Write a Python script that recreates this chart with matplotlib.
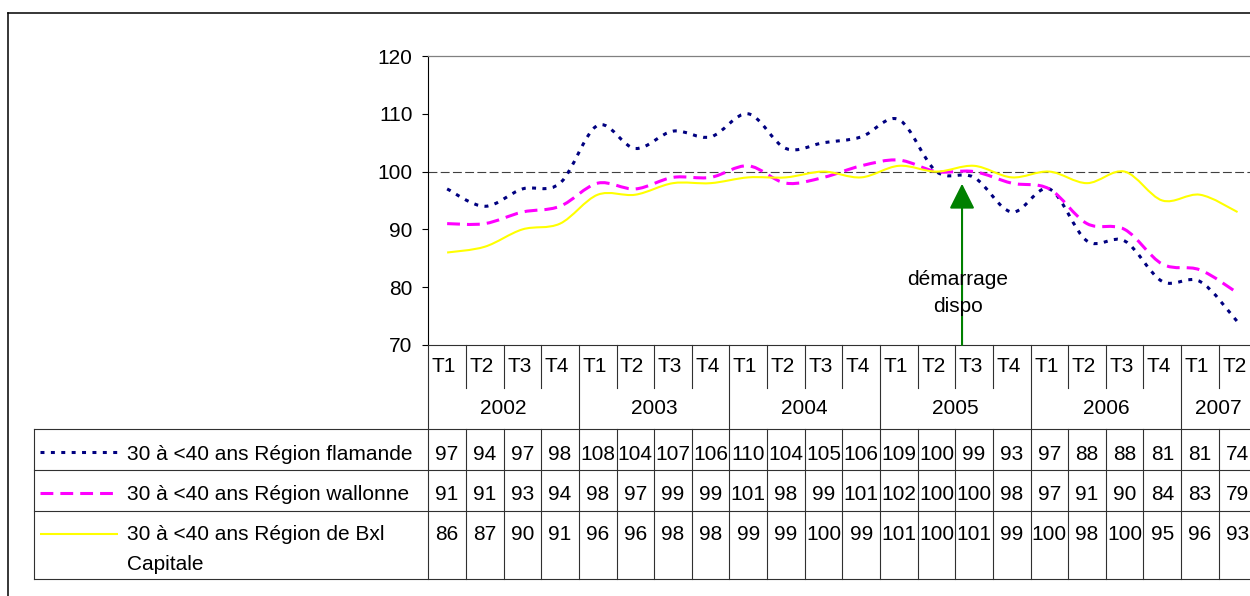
import numpy as np
import matplotlib
matplotlib.use('Agg')
import matplotlib.pyplot as plt
from matplotlib.path import Path
from matplotlib.patches import PathPatch
from matplotlib.lines import Line2D

plt.rcParams['font.family'] = ['Liberation Sans', 'DejaVu Sans']

# ---------------- data ----------------
years = ['2002', '2003', '2004', '2005', '2006', '2007']
quarters_per_year = [4, 4, 4, 4, 4, 2]
quarter_labels = ['T1', 'T2', 'T3', 'T4'] * 5 + ['T1', 'T2']

flamande = [97, 94, 97, 98, 108, 104, 107, 106, 110, 104, 105, 106,
            109, 100, 99, 93, 97, 88, 88, 81, 81, 74]
wallonne = [91, 91, 93, 94, 98, 97, 99, 99, 101, 98, 99, 101,
            102, 100, 100, 98, 97, 91, 90, 84, 83, 79]
bxl = [86, 87, 90, 91, 96, 96, 98, 98, 99, 99, 100, 99,
       101, 100, 101, 99, 100, 98, 100, 95, 96, 93]

series_names = ['30 à <40 ans Région flamande',
                '30 à <40 ans Région wallonne',
                '30 à <40 ans Région de Bxl\nCapitale']
series_values = [flamande, wallonne, bxl]

reference_level = 100
annotation_text = ['démarrage', 'dispo']
annotation_index = 14   # T3 2005

y_min, y_max, y_step = 70, 120, 10

# ---------------- styles ----------------
styles = [
    dict(color='#000080', lw=2.2, ls=(0, (1.3, 2.1))),
    dict(color='#FF00FF', lw=2.2, ls=(0, (4.2, 2.3))),
    dict(color='#FFFF00', lw=1.5, ls='-'),
]
FS = 15.0
W, H = 1250, 596
n = len(quarter_labels)
plot_left = 428.3
col_w = 37.64
plot_right = plot_left + n * col_w
plot_top, plot_bottom = 56, 345

fig = plt.figure(figsize=(W / 100, H / 100), dpi=100)
ax = fig.add_axes([plot_left / W, (H - plot_bottom) / H,
                   (plot_right - plot_left) / W, (plot_bottom - plot_top) / H])
ax.set_xlim(0, n)
ax.set_ylim(y_min, y_max)
ax.set_yticks(np.arange(y_min, y_max + 1, y_step))
ax.set_xticks([])
ax.tick_params(axis='y', length=4.3, width=0.8, pad=7, labelsize=FS, colors='black')
ax.spines['right'].set_visible(False)
ax.spines['top'].set_color('#808080')
ax.spines['top'].set_linewidth(0.9)
ax.spines['left'].set_color('black')
ax.spines['left'].set_linewidth(0.8)
ax.spines['bottom'].set_color('#303030')
ax.spines['bottom'].set_linewidth(0.8)

ax.axhline(reference_level, color='#404040', lw=0.8, ls=(0, (8, 3)), zorder=1)


def smooth_path(xs, ys):
    pts = np.column_stack([xs, ys]).astype(float)
    m = len(pts)
    verts = [pts[0]]
    codes = [Path.MOVETO]
    for i in range(m - 1):
        p0 = pts[i - 1] if i > 0 else pts[i]
        p1 = pts[i]
        p2 = pts[i + 1]
        p3 = pts[i + 2] if i + 2 < m else pts[i + 1]
        c1 = p1 + (p2 - p0) / 6.0
        c2 = p2 - (p3 - p1) / 6.0
        verts += [c1, c2, p2]
        codes += [Path.CURVE4] * 3
    return Path(verts, codes)


xs = np.arange(n) + 0.5
for vals, st in zip(series_values, styles):
    patch = PathPatch(smooth_path(xs, vals), fill=False, edgecolor=st['color'],
                      lw=st['lw'], linestyle=st['ls'], capstyle='butt', zorder=3)
    ax.add_patch(patch)

# arrow + annotation
arrow_x = annotation_index + 0.18
ax.annotate('', xy=(arrow_x, 97.9), xytext=(arrow_x, y_min),
            arrowprops=dict(arrowstyle='-|>,head_length=1.55,head_width=0.78',
                            color='#008000', lw=1.5, mutation_scale=10,
                            shrinkA=0, shrinkB=0), zorder=4)
ax.text(annotation_index + 0.07, 80.4, annotation_text[0], ha='center', va='baseline',
        fontsize=FS, zorder=5)
ax.text(annotation_index + 0.07, 75.7, annotation_text[1], ha='center', va='baseline',
        fontsize=FS, zorder=5)

# ---------------- overlay (pixel space) ----------------
ov = fig.add_axes([0, 0, 1, 1])
ov.set_xlim(0, W)
ov.set_ylim(H, 0)
ov.axis('off')

lc = '#303030'
tlw = 0.8
# outer frame
ov.plot([8, W + 5], [13, 13], color='black', lw=1.1)
ov.plot([8, 8], [13, H + 5], color='black', lw=1.1)

y_qbot = 388
y_hdr = 429
row_lines = [470, 511]
y_bot = 579
legend_left = 34
right_end = plot_right + 2


def col_edge(i):
    return plot_left + i * col_w


year_edges = np.concatenate([[0], np.cumsum(quarters_per_year)])
for i in range(n + 1):
    x = col_edge(i)
    if i in year_edges:
        ov.plot([x, x], [plot_bottom, y_bot], color=lc, lw=tlw)
    else:
        ov.plot([x, x], [plot_bottom, y_qbot], color=lc, lw=tlw)
        ov.plot([x, x], [y_hdr, y_bot], color=lc, lw=tlw)

for y in [y_hdr] + row_lines + [y_bot]:
    ov.plot([legend_left, right_end], [y, y], color=lc, lw=tlw)
ov.plot([legend_left, legend_left], [y_hdr, y_bot], color=lc, lw=tlw)

cap = 0.36 * FS * 100 / 72  # ~half cap height in px
# quarter labels
for i, q in enumerate(quarter_labels):
    ov.text(col_edge(i) + 3.5, 364 + cap, q, ha='left', va='baseline', fontsize=FS)
# year labels
for k, yr in enumerate(years):
    xc = (col_edge(year_edges[k]) + col_edge(year_edges[k + 1])) / 2
    ov.text(xc, 407 + cap, yr, ha='center', va='baseline', fontsize=FS)

row_text_y = [452, 493, 533]
sample_y = [452, 493, 534]
for r, (name, vals, st) in enumerate(zip(series_names, series_values, styles)):
    ov.add_line(Line2D([40, 118], [sample_y[r], sample_y[r]], color=st['color'],
                       lw=st['lw'], ls=st['ls'], solid_capstyle='butt',
                       dash_capstyle='butt'))
    for li, line in enumerate(name.split('\n')):
        ov.text(127, row_text_y[r] + cap + li * 30, line, ha='left', va='baseline',
                fontsize=FS)
    for i, v in enumerate(vals):
        ov.text(col_edge(i) + col_w / 2, row_text_y[r] + cap, str(v), ha='center',
                va='baseline', fontsize=FS)

fig.savefig('out.png', dpi=100)
